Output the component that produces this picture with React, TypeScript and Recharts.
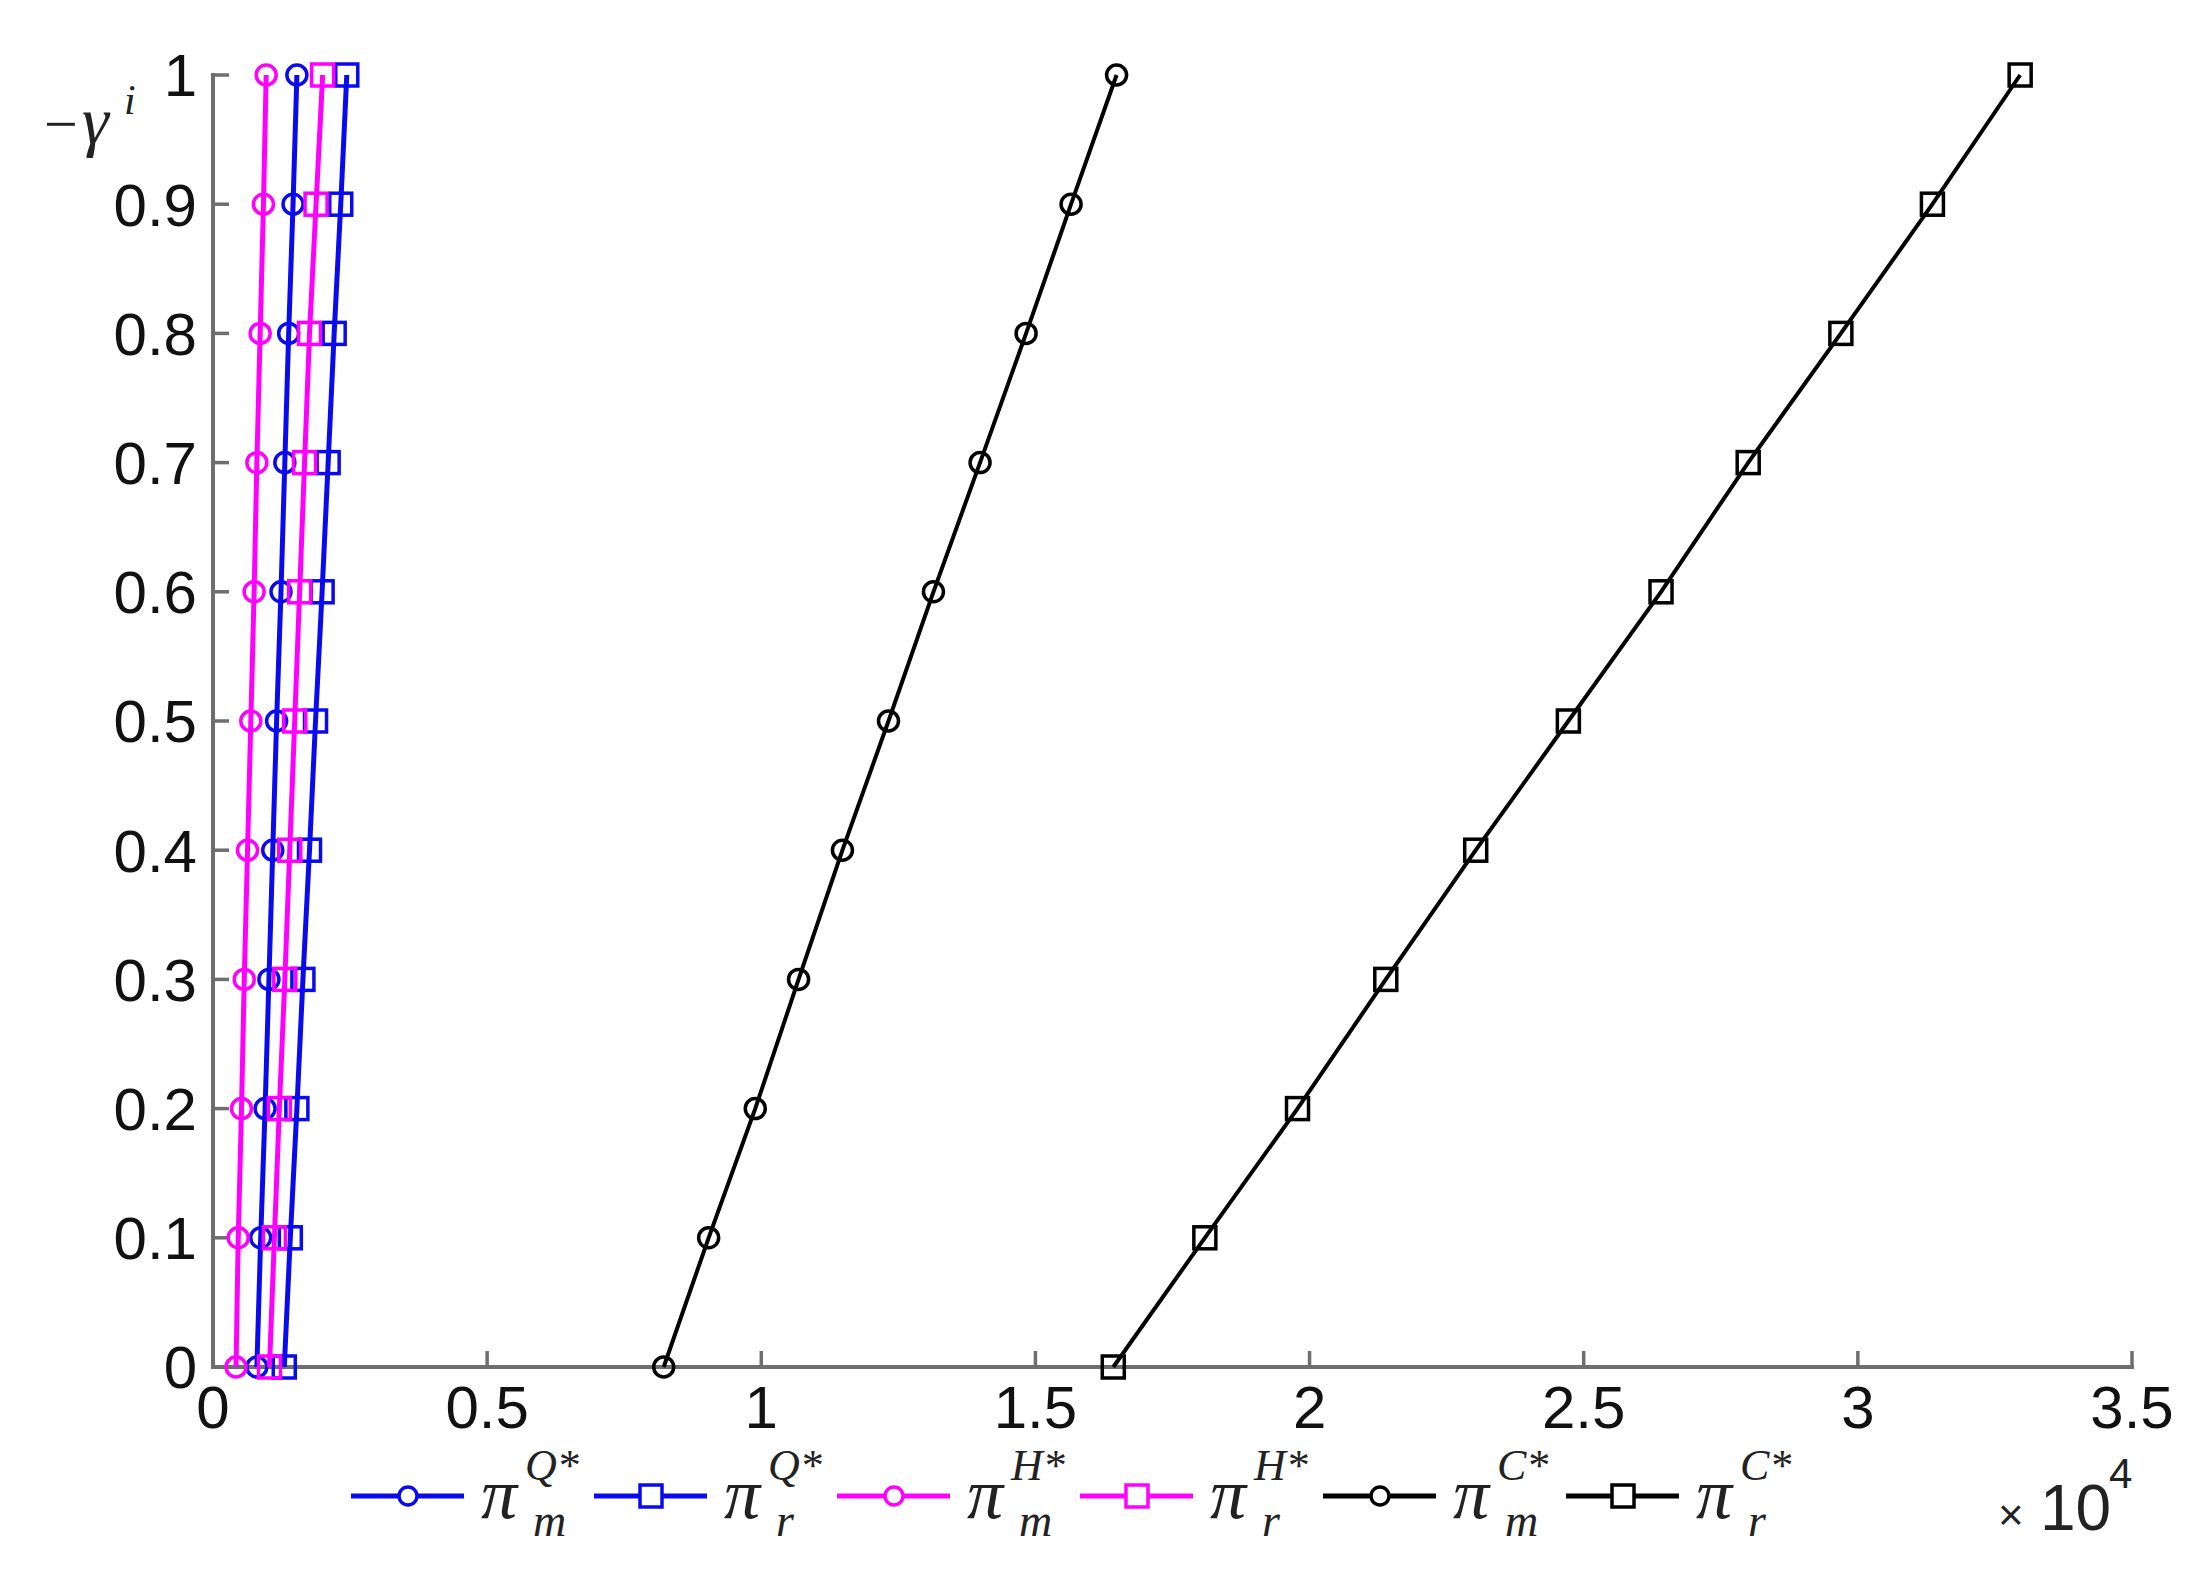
import React from 'react';
import { ScatterChart, Scatter, XAxis, YAxis } from 'recharts';

// -gamma^i levels (vertical axis)
const gamma = [0, 0.1, 0.2, 0.3, 0.4, 0.5, 0.6, 0.7, 0.8, 0.9, 1];

// profits (horizontal axis, raw values, shown as x10^4)
const piMQ = [800, 870, 950, 1020, 1090, 1160, 1240, 1310, 1380, 1460, 1530];
const piRQ = [1300, 1410, 1530, 1640, 1760, 1870, 1990, 2100, 2210, 2330, 2440];
const piMH = [420, 460, 520, 570, 630, 690, 750, 800, 860, 920, 970];
const piRH = [1030, 1120, 1210, 1310, 1400, 1490, 1580, 1670, 1760, 1880, 2000];
const piMC = [8220, 9040, 9890, 10680, 11480, 12320, 13140, 13990, 14830, 15650, 16480];
const piRC = [16420, 18090, 19780, 21390, 23030, 24720, 26410, 28000, 29690, 31360, 32960];

const xTicks = [0, 5000, 10000, 15000, 20000, 25000, 30000, 35000];
const yTicks = [0, 0.1, 0.2, 0.3, 0.4, 0.5, 0.6, 0.7, 0.8, 0.9, 1];

const BLUE = '#0a0aee';
const MAGENTA = '#ff00ff';
const BLACK = '#000000';

const series = [
  { key: 'mQ', values: piMQ, color: BLUE, marker: 'circle', sup: 'Q*', sub: 'm', width: 5 },
  { key: 'rQ', values: piRQ, color: BLUE, marker: 'square', sup: 'Q*', sub: 'r', width: 5 },
  { key: 'mH', values: piMH, color: MAGENTA, marker: 'circle', sup: 'H*', sub: 'm', width: 5 },
  { key: 'rH', values: piRH, color: MAGENTA, marker: 'square', sup: 'H*', sub: 'r', width: 5 },
  { key: 'mC', values: piMC, color: BLACK, marker: 'circle', sup: 'C*', sub: 'm', width: 4 },
  { key: 'rC', values: piRC, color: BLACK, marker: 'square', sup: 'C*', sub: 'r', width: 4 },
];

const toPoints = (vals: number[]) => vals.map((v, i) => ({ x: v, y: gamma[i] }));

const makeShape = (marker: string, color: string) => (props: any) => {
  const { cx, cy } = props;
  if (cx == null || cy == null) return <g />;
  if (marker === 'circle') {
    return <circle cx={cx} cy={cy} r={10} fill="none" stroke={color} strokeWidth={3.5} />;
  }
  return <rect x={cx - 11} y={cy - 11} width={22} height={22} fill="none" stroke={color} strokeWidth={3.5} />;
};

const AXIS = '#6e6e6e';
const axisLine = { stroke: AXIS, strokeWidth: 4, strokeLinecap: 'square' as const };
const tickLine = { stroke: AXIS, strokeWidth: 3.5 };
const sans = '"Liberation Sans", Arial, sans-serif';
const tickStyle = { fill: '#111', fontSize: 60, fontFamily: sans };
const serif = '"Liberation Serif", "Times New Roman", serif';

export default function App() {
  return (
    <div style={{ position: 'absolute', left: 0, top: 0, width: 2203, height: 1585, background: '#fff' }}>
      <ScatterChart width={2203} height={1585} margin={{ top: 75, right: 71, left: 113, bottom: 118 }}>
        <XAxis
          type="number"
          dataKey="x"
          domain={[0, 35000]}
          ticks={xTicks}
          interval={0}
          height={100}
          tickSize={-16}
          tickMargin={34}
          axisLine={axisLine}
          tickLine={tickLine}
          tick={tickStyle}
          tickFormatter={(v) => String(v / 10000)}
        />
        <XAxis
          xAxisId="top"
          orientation="top"
          type="number"
          dataKey="x"
          domain={[0, 35000]}
          ticks={xTicks}
          interval={0}
          height={0}
          tickSize={-16}
          axisLine={axisLine}
          tickLine={tickLine}
          tick={false}
        />
        <YAxis
          type="number"
          dataKey="y"
          domain={[0, 1]}
          ticks={yTicks}
          interval={0}
          width={100}
          tickSize={-16}
          tickMargin={32}
          axisLine={axisLine}
          tickLine={tickLine}
          tick={tickStyle}
        />
        <YAxis
          yAxisId="right"
          orientation="right"
          type="number"
          dataKey="y"
          domain={[0, 1]}
          ticks={yTicks}
          interval={0}
          width={0}
          tickSize={-16}
          axisLine={axisLine}
          tickLine={tickLine}
          tick={false}
        />
        {series.map((s) => (
          <Scatter
            key={s.key}
            data={toPoints(s.values)}
            fill={s.color}
            line={{ stroke: s.color, strokeWidth: s.width }}
            lineType="joint"
            shape={makeShape(s.marker, s.color)}
            isAnimationActive={false}
          />
        ))}
      </ScatterChart>

      <svg
        width={2203}
        height={1585}
        style={{ position: 'absolute', left: 0, top: 0, pointerEvents: 'none' }}
      >
        {/* y axis label */}
        <text x={44} y={144} fontSize={60} fontFamily={serif} fill="#222">−</text>
        <text x={82} y={144} fontSize={68} fontFamily={serif} fontStyle="italic" fill="#222">γ</text>
        <text x={124} y={114} fontSize={42} fontFamily={serif} fontStyle="italic" fill="#222">i</text>

        {/* x10^4 */}
        <text x={1998} y={1530} fontSize={44} fontFamily={sans} fill="#222">×</text>
        <text x={2040} y={1530} fontSize={64} fontFamily={sans} fill="#222">10</text>
        <text x={2109} y={1488} fontSize={42} fontFamily={sans} fill="#222">4</text>

        {/* legend */}
        {series.map((s, i) => {
          const x0 = 351 + i * 243;
          const mx = x0 + 57;
          return (
            <g key={s.key}>
              <line x1={x0} y1={1496} x2={x0 + 113} y2={1496} stroke={s.color} strokeWidth={5} />
              {s.marker === 'circle' ? (
                <circle cx={mx} cy={1496} r={9} fill="#fff" stroke={s.color} strokeWidth={3.5} />
              ) : (
                <rect x={mx - 11} y={1485} width={22} height={22} fill="#fff" stroke={s.color} strokeWidth={3.5} />
              )}
              <text x={x0 + 130} y={1518} fontSize={72} fontFamily={serif} fontStyle="italic" fill="#222">π</text>
              <text x={x0 + 174} y={1480} fontSize={44} fontFamily={serif} fontStyle="italic" fill="#222">{s.sup}</text>
              <text x={x0 + 182} y={1536} fontSize={46} fontFamily={serif} fontStyle="italic" fill="#222">{s.sub}</text>
            </g>
          );
        })}
      </svg>
    </div>
  );
}
